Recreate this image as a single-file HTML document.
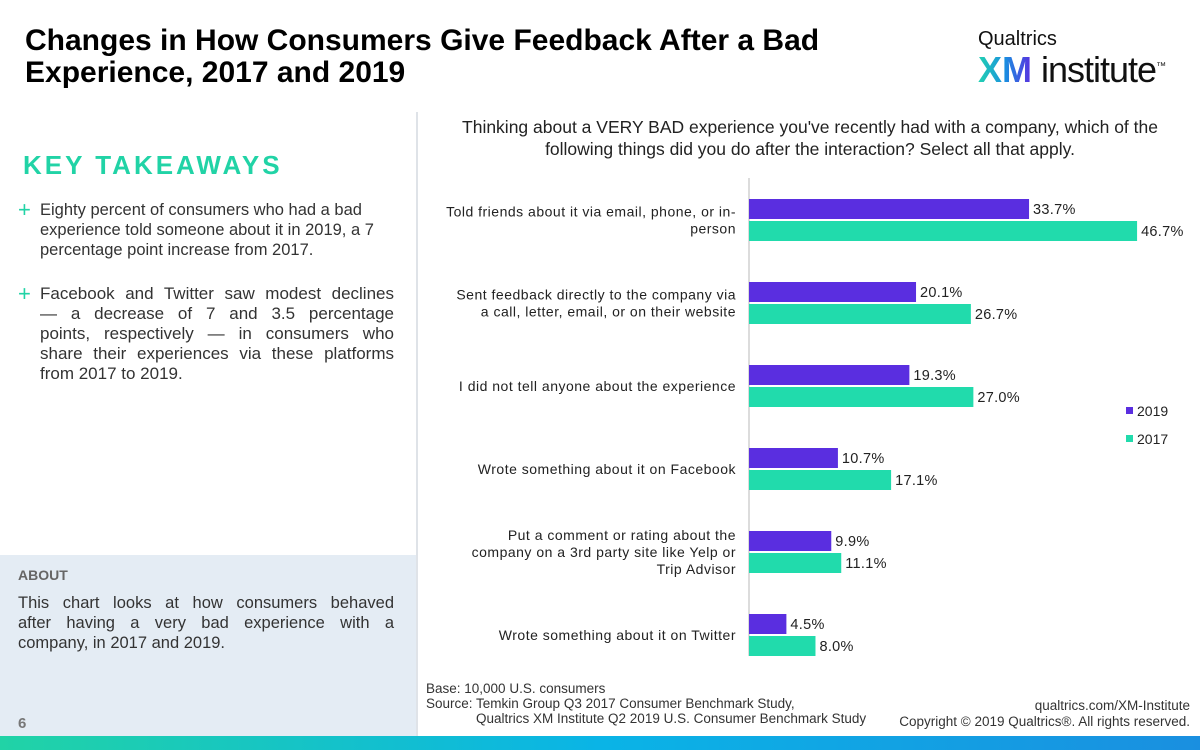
<!DOCTYPE html>
<html><head><meta charset="utf-8"><style>
body{margin:0;width:1200px;height:750px;position:relative;overflow:hidden;background:#fff;font-family:"Liberation Sans",sans-serif;color:#222}
.abs{position:absolute}
.j{display:block;text-align:justify;text-align-last:justify;white-space:nowrap}
.l{display:block;white-space:nowrap}
</style></head><body>
<div class="abs" style="left:25px;top:25px;font-size:30px;font-weight:bold;line-height:32px;color:#000">Changes in How Consumers Give Feedback After a Bad<br>Experience, 2017 and 2019</div>
<div class="abs" style="left:978px;top:28px">
 <div style="font-size:20px;color:#111">Qualtrics</div>
 <div style="font-size:36px;line-height:36px;margin-top:-2px;white-space:nowrap"><b style="background:linear-gradient(90deg,#21d3b0,#1a8fe0,#5a2ee0);-webkit-background-clip:text;color:transparent">XM</b><span style="color:#111;font-weight:300;letter-spacing:-1px"> institute</span><sup style="font-size:10px">™</sup></div>
</div>
<div class="abs" style="left:416px;top:112px;width:2px;height:624px;background:#dfe3e8"></div>
<div class="abs" style="left:23px;top:150px;font-size:26px;font-weight:bold;letter-spacing:3px;color:#21d3a6">KEY TAKEAWAYS</div>
<div class="abs" style="left:18px;top:200px;width:354px;font-size:16.5px;line-height:20px;color:#333;padding-left:22px;text-align:left"><span style="position:absolute;left:0;color:#21d3a6;font-size:22px">+</span>Eighty percent of consumers who had a bad experience told someone about it in 2019, a 7 percentage point increase from 2017.</div>
<div class="abs" style="left:18px;top:284px;width:354px;font-size:17px;line-height:20px;color:#333;padding-left:22px"><span style="position:absolute;left:0;color:#21d3a6;font-size:22px">+</span><span class="j">Facebook and Twitter saw modest declines</span><span class="j">— a decrease of 7 and 3.5 percentage</span><span class="j">points, respectively — in consumers who</span><span class="j">share their experiences via these platforms</span><span class="l">from 2017 to 2019.</span></div>
<div class="abs" style="left:0;top:555px;width:416px;height:181px;background:#e4ecf4">
 <div style="position:absolute;left:18px;top:12px;font-size:14px;font-weight:bold;color:#666">ABOUT</div>
 <div style="position:absolute;left:18px;top:38px;width:376px;font-size:16.5px;line-height:20px;color:#333"><span class="j">This chart looks at how consumers behaved</span><span class="j">after having a very bad experience with a</span><span class="l">company, in 2017 and 2019.</span></div>
 <div style="position:absolute;left:18px;top:160px;font-size:15px;font-weight:bold;color:#777">6</div>
</div>
<div class="abs" style="left:0;top:736px;width:1200px;height:14px;background:linear-gradient(90deg,#21d3a6,#0ab4e6,#1a8fe0)"></div>
<div class="abs" style="left:430px;top:116px;width:760px;text-align:center;font-size:17.5px;line-height:22px;color:#222">Thinking about a VERY BAD experience you've recently had with a company, which of the following things did you do after the interaction? Select all that apply.</div>
<svg class="abs" id="chart" style="left:0;top:0" width="1200" height="750"></svg>
<div class="abs" style="left:426px;top:681px;font-size:13.5px;line-height:15px;color:#333;white-space:nowrap">Base: 10,000 U.S. consumers<br>Source: Temkin Group Q3 2017 Consumer Benchmark Study,<br><span style="padding-left:50px">Qualtrics XM Institute Q2 2019 U.S. Consumer Benchmark Study</span></div>
<div class="abs" style="right:10px;top:698px;font-size:13.5px;line-height:16px;color:#333;text-align:right;white-space:nowrap">qualtrics.com/XM-Institute<br>Copyright © 2019 Qualtrics®. All rights reserved.</div>
<script>
const categories=[["Told friends about it via email, phone, or in-","person"],["Sent feedback directly to the company via","a call, letter, email, or on their website"],["I did not tell anyone about the experience"],["Wrote something about it on Facebook"],["Put a comment or rating about the","company on a 3rd party site like Yelp or","Trip Advisor"],["Wrote something about it on Twitter"]];
const values2019=[33.7,20.1,19.3,10.7,9.9,4.5];
const values2017=[46.7,26.7,27.0,17.1,11.1,8.0];
const seriesNames=["2019","2017"];
const colors=["#5a2ee0","#21dbac"];
const NS="http://www.w3.org/2000/svg";
const svg=document.getElementById('chart');
const x0=749,scale=8.31;
const xs=v=>v*scale;
const y=i=>199+i*83;
function mk(t,a){const e=document.createElementNS(NS,t);for(const k in a)e.setAttribute(k,a[k]);svg.appendChild(e);return e;}
const ax=mk('line',{x1:x0,x2:x0,y1:178,y2:656,stroke:'#d0d0d0','stroke-width':1.5});


categories.forEach((c,i)=>{
 [values2019,values2017].forEach((vals,s)=>{
  const yy=y(i)+s*22;
  const r=mk('rect',{x:x0,y:yy,width:xs(vals[i]),height:20,fill:colors[s]});
  
  
  const t=mk('text',{x:x0+xs(vals[i])+4,y:yy+15,'font-size':14.5,'letter-spacing':0.3,fill:'#222'});
  t.textContent=vals[i].toFixed(1)+'%';
  
  
 });
 const n=c.length,cy=y(i)+21;
 c.forEach((ln,j)=>{
  const t=mk('text',{x:736,y:cy+5+(j-(n-1)/2)*17,'font-size':14,'letter-spacing':0.5,'text-anchor':'end',fill:'#222'});
  t.textContent=ln;
  
  
 });
});
seriesNames.forEach((s,k)=>{
 const r=mk('rect',{x:1126,y:407+k*28,width:7,height:7,fill:colors[k]});
 
 
 const t=mk('text',{x:1137,y:416+k*28,'font-size':14,fill:'#222'});
 t.textContent=s;
 
 
});
</script>
</body></html>
